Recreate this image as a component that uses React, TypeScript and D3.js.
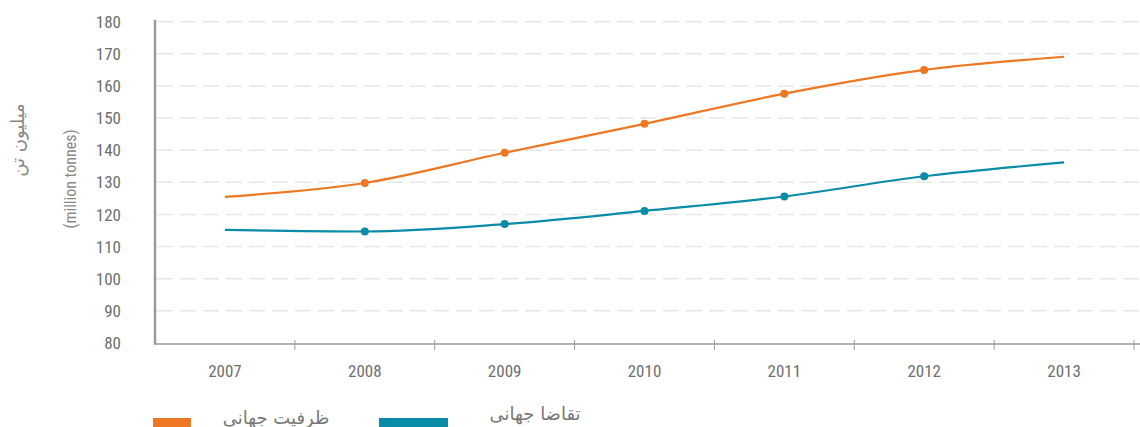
import React, { useEffect, useRef } from 'react';
import * as d3 from 'd3';

const years = ['2007', '2008', '2009', '2010', '2011', '2012', '2013'];
const capacity = [125.5, 129.8, 139.2, 148.2, 157.6, 165.0, 169.1];
const demand = [115.2, 114.7, 117.0, 121.1, 125.6, 131.9, 136.2];
const yTicks = [80, 90, 100, 110, 120, 130, 140, 150, 160, 170, 180];
const legendLabels = ['ظرفیت جهانی', 'تقاضا جهانی'];
const yTitleFa = 'میلیون تن';
const yTitleEn = '(million tonnes)';

const ORANGE = '#ed7722';
const TEAL = '#0a8ba7';
const NUM_FONT = '"Liberation Sans Narrow", "Roboto Condensed", Roboto, sans-serif';

const App: React.FC = () => {
  const svgRef = useRef<SVGSVGElement>(null);

  useEffect(() => {
    document.body.style.margin = '0';
    if (!svgRef.current) return;
    const svg = d3.select(svgRef.current);
    svg.selectAll('*').remove();

    const left = 155, right = 1134, top = 21.7, bottom = 343;

    const x = d3.scaleBand().domain(years).range([left, right]);
    const y = d3.scaleLinear().domain([80, 180]).range([bottom, top]);
    const cx = (d: string) => (x(d) as number) + x.bandwidth() / 2;

    // grid
    svg.append('g')
      .selectAll('line')
      .data(yTicks.filter(t => t > 80))
      .join('line')
      .attr('x1', left + 2)
      .attr('x2', 1140)
      .attr('y1', d => y(d))
      .attr('y2', d => y(d))
      .attr('stroke', '#e6e6e6')
      .attr('stroke-width', 1.5)
      .attr('stroke-dasharray', '16,7');

    // y tick labels
    svg.append('g')
      .selectAll('text')
      .data(yTicks)
      .join('text')
      .attr('x', 121)
      .attr('y', d => y(d))
      .attr('dy', '0.36em')
      .attr('text-anchor', 'end')
      .attr('font-family', NUM_FONT)
      .attr('font-size', 17)
      .attr('fill', '#6e6e6e')
      .text(d => d);

    // x axis
    const xAxis = svg.append('g').attr('transform', `translate(0,${bottom + 1})`);
    xAxis.append('line')
      .attr('x1', left).attr('x2', 1140)
      .attr('stroke', '#9a9a9a').attr('stroke-width', 1.5);
    xAxis.selectAll('line.tick')
      .data(years.slice(1).concat(['end']))
      .join('line')
      .attr('class', 'tick')
      .attr('x1', d => d === 'end' ? right : (x(d) as number))
      .attr('x2', d => d === 'end' ? right : (x(d) as number))
      .attr('y1', -4).attr('y2', 6)
      .attr('stroke', '#9a9a9a').attr('stroke-width', 1);
    xAxis.selectAll('text')
      .data(years)
      .join('text')
      .attr('x', d => cx(d))
      .attr('y', 33)
      .attr('text-anchor', 'middle')
      .attr('font-family', NUM_FONT)
      .attr('font-size', 17)
      .attr('fill', '#6e6e6e')
      .text(d => d);

    // y axis line
    svg.append('line')
      .attr('x1', left).attr('x2', left)
      .attr('y1', 20).attr('y2', bottom + 1.8)
      .attr('stroke', '#9a9a9a').attr('stroke-width', 2.5);

    // y titles
    svg.append('text')
      .attr('transform', 'translate(24,140) rotate(-90)')
      .attr('text-anchor', 'middle')
      .attr('font-family', '"DejaVu Sans", sans-serif')
      .attr('font-size', 18)
      .attr('fill', '#888')
      .text(yTitleFa);
    svg.append('text')
      .attr('transform', 'translate(76,179) rotate(-90)')
      .attr('text-anchor', 'middle')
      .attr('font-family', NUM_FONT)
      .attr('font-size', 16)
      .attr('fill', '#888')
      .text(yTitleEn);

    const line = d3.line<number>()
      .x((_, i) => cx(years[i]))
      .y(d => y(d))
      .curve(d3.curveMonotoneX);

    const series = [
      { values: capacity, color: ORANGE },
      { values: demand, color: TEAL },
    ];

    series.forEach(s => {
      svg.append('path')
        .datum(s.values)
        .attr('d', line)
        .attr('fill', 'none')
        .attr('stroke', s.color)
        .attr('stroke-width', 2.2);
      svg.append('g')
        .selectAll('circle')
        .data(s.values.slice(1, -1))
        .join('circle')
        .attr('cx', (_, i) => cx(years[i + 1]))
        .attr('cy', d => y(d))
        .attr('r', 4)
        .attr('fill', s.color);
    });

    // legend
    const legend = [
      { label: legendLabels[0], color: ORANGE, rx: 153, rw: 38, tx: 276, ty: 424 },
      { label: legendLabels[1], color: TEAL, rx: 379, rw: 69, tx: 535, ty: 420 },
    ];
    const lg = svg.append('g');
    legend.forEach(l => {
      lg.append('rect')
        .attr('x', l.rx).attr('y', 418)
        .attr('width', l.rw).attr('height', 10)
        .attr('fill', l.color);
      lg.append('text')
        .attr('x', l.tx).attr('y', l.ty)
        .attr('text-anchor', 'middle')
        .attr('font-family', '"DejaVu Sans", sans-serif')
        .attr('font-size', 18)
        .attr('fill', '#777')
        .text(l.label);
    });
  }, []);

  return (
    <div style={{ position: 'absolute', left: 0, top: 0 }}>
      <svg ref={svgRef} width={1140} height={427} style={{ display: 'block', background: '#fff' }} />
    </div>
  );
};

export default App;
